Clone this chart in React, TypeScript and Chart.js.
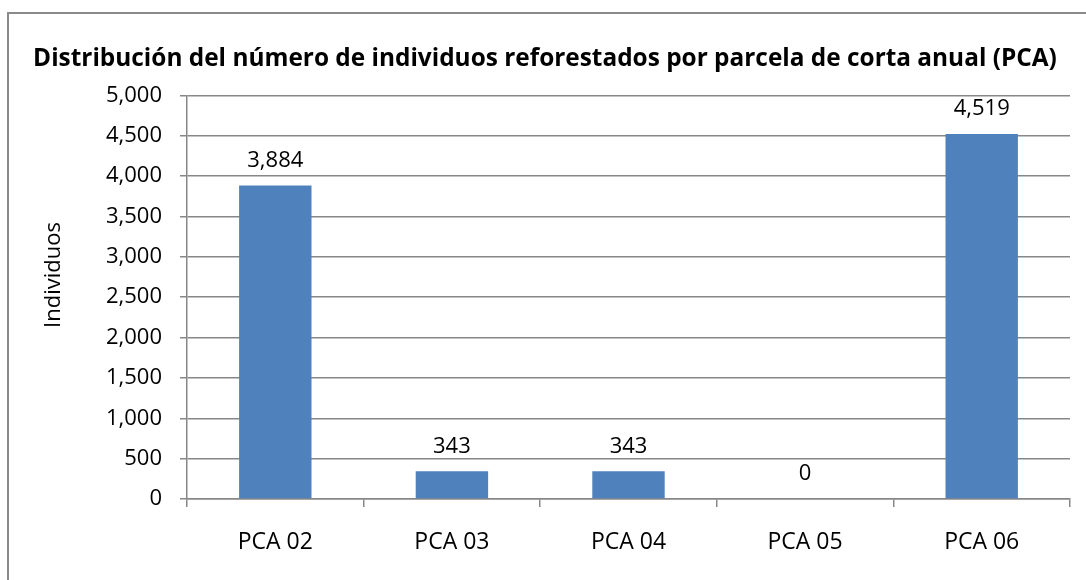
import React, { useEffect, useRef } from "react";
import { Chart, registerables } from "chart.js";

Chart.register(...registerables);

const categories = ["PCA 02", "PCA 03", "PCA 04", "PCA 05", "PCA 06"];
const individuos = [3884, 343, 343, 0, 4519];
const chartTitle =
  "Distribución del número de individuos reforestados por parcela de corta anual (PCA)";
const yAxisTitle = "Individuos";
const yMin = 0;
const yMax = 5000;
const yStep = 500;

const FONT = '"Open Sans", "Noto Sans", sans-serif';
const GRID = "#878787";

const fmt = (v: number) => v.toLocaleString("en-US");

const valueLabels = {
  id: "valueLabels",
  afterDatasetsDraw(chart: any) {
    const ctx = chart.ctx;
    const meta = chart.getDatasetMeta(0);
    ctx.save();
    ctx.font = `22px ${FONT}`;
    ctx.fillStyle = "#000";
    ctx.textAlign = "center";
    ctx.textBaseline = "middle";
    meta.data.forEach((bar: any, i: number) => {
      ctx.fillText(fmt(individuos[i]), bar.x, bar.y - 25);
    });
    ctx.restore();
  },
};

const yTitlePlugin = {
  id: "yTitlePlugin",
  afterDraw(chart: any) {
    const ctx = chart.ctx;
    ctx.save();
    ctx.translate(54, 275);
    ctx.rotate(-Math.PI / 2);
    ctx.font = `22px ${FONT}`;
    ctx.fillStyle = "#000";
    ctx.textAlign = "center";
    ctx.textBaseline = "middle";
    ctx.fillText(yAxisTitle, 0, 0);
    ctx.restore();
  },
};

export default function App() {
  const ref = useRef<HTMLCanvasElement | null>(null);

  useEffect(() => {
    if (!ref.current) return;
    const chart = new Chart(ref.current, {
      type: "bar",
      data: {
        labels: categories,
        datasets: [
          {
            data: individuos,
            backgroundColor: "#4F81BD",
            borderWidth: 0,
            categoryPercentage: 1,
            barPercentage: 0.41,
          },
        ],
      },
      plugins: [valueLabels, yTitlePlugin],
      options: {
        responsive: false,
        animation: false,
        events: [],
        layout: { padding: { left: 20, right: 16, top: 0, bottom: 0 } },
        plugins: {
          legend: { display: false },
          tooltip: { enabled: false },
          title: {
            display: true,
            text: chartTitle,
            color: "#000",
            font: { family: FONT, size: 24.4, weight: "bold" },
            padding: { top: 44, bottom: 22 },
          },
        },
        scales: {
          x: {
            grid: {
              display: true,
              drawOnChartArea: false,
              drawTicks: true,
              tickLength: 8,
              offset: true,
              color: GRID,
              lineWidth: 1.5,
            },
            border: { display: true, color: GRID, width: 1.5 },
            ticks: {
              color: "#000",
              font: { family: FONT, size: 23 },
              padding: 22,
              maxRotation: 0,
            },
            afterFit: (s: any) => {
              s.height = 81;
            },
          },
          y: {
            min: yMin,
            max: yMax,
            grid: {
              color: GRID,
              lineWidth: 1.5,
              drawTicks: true,
              tickLength: 7,
            },
            border: { display: true, color: GRID, width: 1.5 },
            ticks: {
              stepSize: yStep,
              color: "#000",
              font: { family: FONT, size: 22 },
              padding: 18,
              callback: (v: any) => fmt(Number(v)),
            },
            afterFit: (s: any) => {
              s.width = 167;
            },
          },
        },
      },
    });
    return () => chart.destroy();
  }, []);

  return (
    <div
      style={{
        position: "fixed",
        left: 0,
        top: 0,
        width: 1086,
        height: 580,
        overflow: "hidden",
        background: "#fff",
      }}
    >
      <div
        style={{
          position: "absolute",
          left: 7,
          top: 12,
          width: 1200,
          height: 700,
          border: "2px solid #8a8a8a",
          boxSizing: "border-box",
        }}
      />
      <canvas
        ref={ref}
        width={1086}
        height={580}
        style={{ position: "absolute", left: 0, top: 0, width: 1086, height: 580 }}
      />
    </div>
  );
}
